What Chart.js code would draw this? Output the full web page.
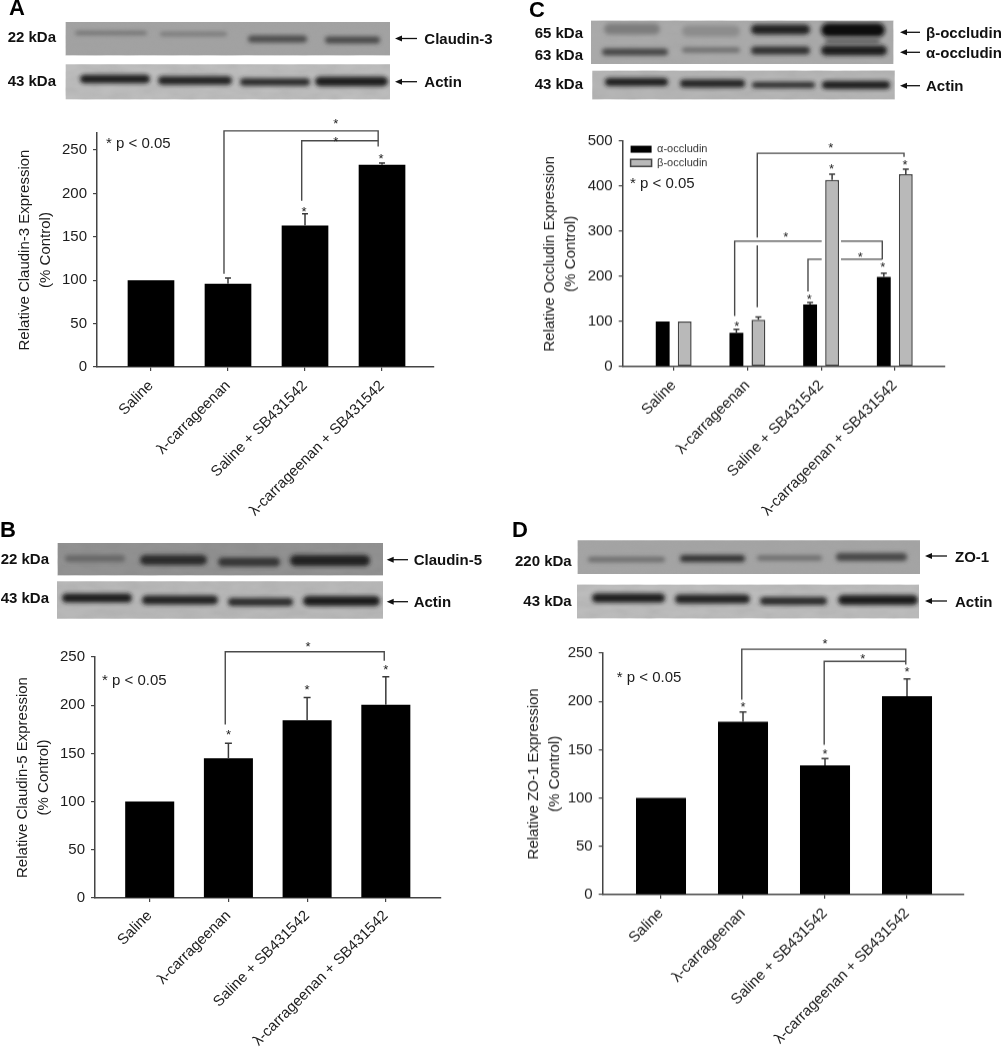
<!DOCTYPE html>
<html><head><meta charset="utf-8">
<style>
html,body{margin:0;padding:0;background:#fff;width:1002px;height:1050px;overflow:hidden}
#stage{position:relative;width:1002px;height:1050px}
canvas{position:absolute;filter:blur(0.3px)}
svg{position:absolute;left:0;top:0;pointer-events:none}
svg text{font-family:"Liberation Sans",Arial,sans-serif}
</style>
<script src="https://cdn.jsdelivr.net/npm/chart.js@4"></script>
</head><body><div id="stage"></div>
<script>
// ---------- chart values ----------
const categories = ['Saline','λ-carrageenan','Saline + SB431542','λ-carrageenan + SB431542'];
const ticks250 = [0,50,100,150,200,250];
const ticks500 = [0,100,200,300,400,500];

const claudin3Values = [100,96,163,233];
const claudin3Errors = [100,102.5,176.5,235];
const claudin5Values = [100,145,184.5,200.4];
const claudin5Errors = [100,160.5,208,229.5];
const alphaOccludinValues = [100,75,137.6,199];
const alphaOccludinErrors = [100,83,142,207];
const betaOccludinValues = [100,104,413.7,426.7];
const betaOccludinErrors = [100,110,426.7,438];
const zo1Values = [100,179,133.8,205.5];
const zo1Errors = [100,189,140.7,223.4];

// significance brackets: polylines in (category position, percent) units
const claudin3Brackets = [
  [[0.948,107.5],[0.948,272],[2.95,272],[2.95,254]],
  [[1.957,191.6],[1.957,260.7],[2.95,260.7]]
];
const claudin5Brackets = [[[0.96,180],[0.96,255.5],[2.98,255.5],[2.98,246]]];
const occludinBrackets = [
  [[1.134,131.7],[1.134,269]],
  [[1.134,286],[1.134,473],[3.125,473],[3.125,465]],
  [[0.827,112.4],[0.827,278],[2.008,278]],
  [[2.27,278],[2.83,278],[2.83,238]],
  [[1.822,166.4],[1.822,238],[2.008,238]],
  [[2.27,238],[2.83,238]]
];
const zo1Brackets = [
  [[0.985,201.7],[0.985,254],[2.985,254],[2.985,238]],
  [[1.99,155],[1.99,241.4],[2.985,241.4]]
];
// asterisks: (category position, percent)
const claudin3Stars = [[2.40,283.7],[2.40,263.8],[2.987,243.8],[1.987,183]];
const claudin5Stars = [[2.01,263.5],[3,240],[2,219.5],[1,172.3]];
const occludinStars = [[2.13,491.8],[2.14,445.9],[3.14,455.5],[1.52,293.6],[2.53,250],[2.836,227],[1.84,156.8],[0.855,96.9]];
const zo1Stars = [[2,263],[2.46,247.6],[3,233.8],[1,197.6],[2,148.6]];

// ---------- plugin: error bars, brackets, asterisks via the chart's scales ----------
const FONT = '"Liberation Sans",Arial,sans-serif';
const annotatePlugin = {
  id:'annotate',
  beforeDraw(chart){
    const p = chart.options.plugins.annotate;
    if (p.legendAt && chart.legend){ chart.legend.left = p.legendAt[0]; chart.legend.top = p.legendAt[1]; }
  },
  afterDatasetsDraw(chart){
    const o = chart.options.plugins.annotate, c = chart.ctx, X = chart.scales.x, Y = chart.scales.y;
    c.save();
    c.strokeStyle = '#3a3a3a'; c.lineWidth = 1.5;
    chart.data.datasets.forEach((ds,di)=>{
      chart.getDatasetMeta(di).data.forEach((bar,i)=>{
        const top = ds.errors[i];
        if (top <= ds.data[i].y) return;
        const y = Y.getPixelForValue(top);
        c.beginPath();
        c.moveTo(bar.x,bar.y); c.lineTo(bar.x,y);
        c.moveTo(bar.x-o.cap,y); c.lineTo(bar.x+o.cap,y);
        c.stroke();
      });
    });
    c.strokeStyle = '#4a4a4a'; c.lineWidth = 1.4;
    o.brackets.forEach(line=>{
      c.beginPath();
      line.forEach((pt,i)=>{
        const px = X.getPixelForValue(pt[0]), py = Y.getPixelForValue(pt[1]);
        i ? c.lineTo(px,py) : c.moveTo(px,py);
      });
      c.stroke();
    });
    c.fillStyle = '#222'; c.font = '13px '+FONT; c.textAlign = 'center'; c.textBaseline = 'alphabetic';
    o.stars.forEach(s=>{
      c.fillText('*', X.getPixelForValue(s[0]), Y.getPixelForValue(s[1]) + 7.5);
    });
    c.restore();
  }
};

// ---------- chart factory ----------
const stage = document.getElementById('stage');
function panel(cfg){
  const PAD_TOP = 30, X_H = 165;
  const W = cfg.plot.right - cfg.canvasLeft + 5;
  const H = PAD_TOP + (cfg.plot.bottom - cfg.plot.top) + X_H;
  const cv = document.createElement('canvas');
  cv.width = W; cv.height = H;
  cv.style.left = cfg.canvasLeft+'px'; cv.style.top = (cfg.plot.top-PAD_TOP)+'px';
  cv.style.width = W+'px'; cv.style.height = H+'px';
  stage.appendChild(cv);
  const size = 15, lh = 1.37;
  return new Chart(cv,{
    type:'bar',
    data:{datasets:cfg.series.map(s=>({
      label:s.label,
      data:s.values.map((v,i)=>({x:i,y:v})),
      errors:s.errors,
      backgroundColor:s.fill,
      borderColor:s.stroke||s.fill,
      borderWidth:s.stroke?1.5:0,
      borderSkipped:false,
      categoryPercentage:cfg.catPct,
      barPercentage:cfg.barPct
    }))},
    plugins:[annotatePlugin],
    options:{
      responsive:false, animation:false, devicePixelRatio:1,
      layout:{autoPadding:false,padding:{top:PAD_TOP,right:5,left:0,bottom:0}},
      plugins:{
        tooltip:{enabled:false},
        legend:cfg.legend?{
          display:true, position:'chartArea', align:'start',
          labels:{boxWidth:21,boxHeight:7,padding:2.6,color:'#333',font:{size:11,family:FONT}}
        }:{display:false},
        annotate:{brackets:cfg.brackets,stars:cfg.stars,cap:cfg.cap,legendAt:cfg.legendAt}
      },
      scales:{
        x:{
          type:'linear', min:cfg.xMin, max:cfg.xMax, offset:false,
          afterBuildTicks:s=>{s.ticks = categories.map((_,i)=>({value:i}));},
          afterFit:s=>{s.height = X_H;},
          border:{display:true,color:'#444',width:1.5},
          grid:{offset:false,drawOnChartArea:false,drawTicks:true,tickLength:4,color:'#444',lineWidth:1.2},
          ticks:{autoSkip:false,minRotation:45,maxRotation:45,padding:cfg.xPad,color:'#1c1c1c',
            font:{size:15,family:FONT},callback:v=>categories[v]}
        },
        y:{
          min:0,max:cfg.yMax,
          afterBuildTicks:s=>{s.ticks = cfg.ticks.map(v=>({value:v}));},
          afterFit:s=>{s.width = cfg.plot.left-cfg.canvasLeft;},
          border:{display:true,color:'#444',width:1.5},
          grid:{drawOnChartArea:false,drawTicks:true,tickLength:4,color:'#444',lineWidth:1.2},
          ticks:{padding:6,color:'#1c1c1c',font:{size:15,family:FONT},callback:v=>String(v)},
          title:{display:true,text:cfg.title,color:'#1c1c1c',
            font:{size:size,family:FONT,lineHeight:lh},padding:{top:cfg.titleX-size*lh/2,bottom:0}}
        }
      }
    }
  });
}

panel({canvasLeft:0,plot:{left:97,right:434,top:133.3,bottom:367.3},xMin:-0.701,xMax:3.675,yMax:269.6,ticks:ticks250,
  catPct:1,barPct:0.606,cap:3,xPad:6,titleX:25,
  title:['Relative Claudin-3 Expression','(% Control)'],
  series:[{label:'Claudin-3',values:claudin3Values,errors:claudin3Errors,fill:'#000'}],
  brackets:claudin3Brackets,stars:claudin3Stars});
panel({canvasLeft:0,plot:{left:95,right:441,top:657.3,bottom:898.3},xMin:-0.695,xMax:3.701,yMax:250,ticks:ticks250,
  catPct:1,barPct:0.623,cap:3.5,xPad:5,titleX:23.3,
  title:['Relative Claudin-5 Expression','(% Control)'],
  series:[{label:'Claudin-5',values:claudin5Values,errors:claudin5Errors,fill:'#000'}],
  brackets:claudin5Brackets,stars:claudin5Stars});
panel({canvasLeft:520,plot:{left:622.7,right:945,top:141.3,bottom:366.7},xMin:-0.692,xMax:3.681,yMax:500,ticks:ticks500,
  catPct:0.597,barPct:0.63,cap:3,xPad:6,titleX:30,legend:true,legendAt:[108,30],
  title:['Relative Occludin Expression','(% Control)'],
  series:[
    {label:'α-occludin',values:alphaOccludinValues,errors:alphaOccludinErrors,fill:'#000'},
    {label:'β-occludin',values:betaOccludinValues,errors:betaOccludinErrors,fill:'#b9b9b9',stroke:'#444'}
  ],
  brackets:occludinBrackets,stars:occludinStars});
panel({canvasLeft:520,plot:{left:602.7,right:964,top:653.3,bottom:895},xMin:-0.711,xMax:3.695,yMax:250,ticks:ticks250,
  catPct:1,barPct:0.61,cap:3.5,xPad:6,titleX:14.3,
  title:['Relative ZO-1 Expression','(% Control)'],
  series:[{label:'ZO-1',values:zo1Values,errors:zo1Errors,fill:'#000'}],
  brackets:zo1Brackets,stars:zo1Stars});

// ---------- western-blot photographs and surrounding labels ----------
const blots = [ // x,y,w,h,bg, bands[x1,x2,y,h,colour]
 [65.7,22,324.3,33.3,'#a2a2a2',[[75,147,33,3.5,'#6a6a6a'],[160,227,34,3.5,'#707070'],[248,307,39,7,'#4c4c4c'],[325,380,40,7,'#4a4a4a']]],
 [65.7,64.3,324.3,35,'#bdbdbd',[[80,150,79,8.5,'#1c1c1c'],[158,232,80.5,8.5,'#222'],[240,310,82,7.5,'#2a2a2a'],[315,388,81.5,9.5,'#1f1f1f']]],
 [591,20.7,302.3,43.3,'#aaaaaa',[[604,660,29,11,'#7d7d7d'],[682,740,31,11,'#8c8c8c'],[751,810,29.5,10,'#202020'],[821,885,30,14,'#0e0e0e'],[825,880,41,5,'#5c5c5c'],[602,668,52,7,'#454545'],[682,740,50,5,'#6a6a6a'],[751,810,50.5,8,'#333'],[821,887,50.5,10,'#1f1f1f']]],
 [592.3,70.7,302.4,28.6,'#b5b5b5',[[605,668,82,8,'#1c1c1c'],[680,745,83.5,8,'#222'],[752,815,85,6,'#2c2c2c'],[822,890,85,8,'#1f1f1f']]],
 [57.7,543,325.3,32.3,'#8e8e8e',[[65,125,558.5,7,'#686868'],[140,207,560,10,'#2a2a2a'],[218,280,562,9,'#363636'],[290,370,560.5,11,'#242424']]],
 [57,581.3,326,37.4,'#b8b8b8',[[62,132,598,9,'#1e1e1e'],[142,218,600,9,'#222'],[228,293,602,8,'#2a2a2a'],[303,380,601,10,'#1e1e1e']]],
 [577.7,540.3,342.3,33.7,'#a4a4a4',[[588,665,559.5,5,'#6a6a6a'],[680,745,558.5,7,'#333'],[757,822,558,5,'#6a6a6a'],[836,907,557,8,'#474747']]],
 [577,584.7,342,33.6,'#bcbcbc',[[592,665,598,9,'#1c1c1c'],[675,750,599,9,'#222'],[760,827,601,8,'#2a2a2a'],[838,918,600,10,'#1e1e1e']]]
];
const panelLetters = [['A',9,7.5],['B',0,529],['C',529,9.5],['D',512,529]];
const sizeLabels = [ // text,right edge,y
 ['22 kDa',56,36],['43 kDa',56,80],['22 kDa',49,558.3],['43 kDa',49,597.7],
 ['65 kDa',583,32.7],['63 kDa',583,54],['43 kDa',583,83.3],['220 kDa',571.7,560],['43 kDa',571.7,600]
];
const arrowLabels = [ // text,arrow x1,arrow x2,arrow y,text x,text y
 ['Claudin-3',395,417,38.5,424.3,38],['Actin',395,417,81.7,424.3,81.5],
 ['Claudin-5',386.7,408,559.7,413.7,559],['Actin',386.7,408,601.7,413.7,601],
 ['β-occludin',900,920,32.3,926,32],['α-occludin',900,920,52.3,926,52],['Actin',900,920,85.7,926,85],
 ['ZO-1',925,947,556,955,556],['Actin',925,947,601,955,601]
];
const pNotes = [[106,142],[102,679],[630,182.7],[616.7,676.7]];

let s = '<svg width="1002" height="1050" xmlns="http://www.w3.org/2000/svg"><defs>'+
 '<filter id="b" x="-10%" y="-150%" width="120%" height="400%"><feGaussianBlur stdDeviation="1.9"/></filter>'+
 '<filter id="n" x="0" y="0" width="100%" height="100%"><feTurbulence type="fractalNoise" baseFrequency="0.05 0.12" numOctaves="2" seed="4"/><feColorMatrix values="0 0 0 0 0.35  0 0 0 0 0.35  0 0 0 0 0.35  0.9 0 0 0 -0.25"/></filter>'+
 blots.map((b,i)=>`<clipPath id="c${i}"><rect x="${b[0]}" y="${b[1]}" width="${b[2]}" height="${b[3]}"/></clipPath>`).join('')+
 '</defs>';
blots.forEach((b,i)=>{
  s += `<rect x="${b[0]}" y="${b[1]}" width="${b[2]}" height="${b[3]}" fill="${b[4]}"/>`+
       `<rect x="${b[0]}" y="${b[1]}" width="${b[2]}" height="${b[3]}" filter="url(#n)" opacity="0.5"/><g clip-path="url(#c${i})">`;
  b[5].forEach(t=>{
    s += `<rect x="${t[0]}" y="${t[2]-t[3]/2}" width="${t[1]-t[0]}" height="${t[3]}" rx="${t[3]/2}" fill="${t[4]}" filter="url(#b)"/>`;
  });
  s += '</g>';
});
panelLetters.forEach(l=>{ s += `<text x="${l[1]}" y="${l[2]}" font-size="22" font-weight="700" fill="#000" dominant-baseline="central">${l[0]}</text>`; });
sizeLabels.forEach(l=>{ s += `<text x="${l[1]}" y="${l[2]}" text-anchor="end" font-size="15" font-weight="700" fill="#111" dominant-baseline="central">${l[0]}</text>`; });
arrowLabels.forEach(a=>{
  const [t,x1,x2,y,tx,ty] = a;
  s += `<line x1="${x1+5}" y1="${y}" x2="${x2}" y2="${y}" stroke="#111" stroke-width="1.3"/>`+
       `<polygon points="${x1},${y} ${x1+7},${y-3} ${x1+7},${y+3}" fill="#111"/>`+
       `<text x="${tx}" y="${ty}" font-size="15" font-weight="700" fill="#111" dominant-baseline="central">${t}</text>`;
});
pNotes.forEach(n=>{ s += `<text x="${n[0]}" y="${n[1]}" font-size="15" fill="#1c1c1c" dominant-baseline="central">* p &lt; 0.05</text>`; });
s += '</svg>';
stage.insertAdjacentHTML('beforeend',s);
</script>
</body></html>
